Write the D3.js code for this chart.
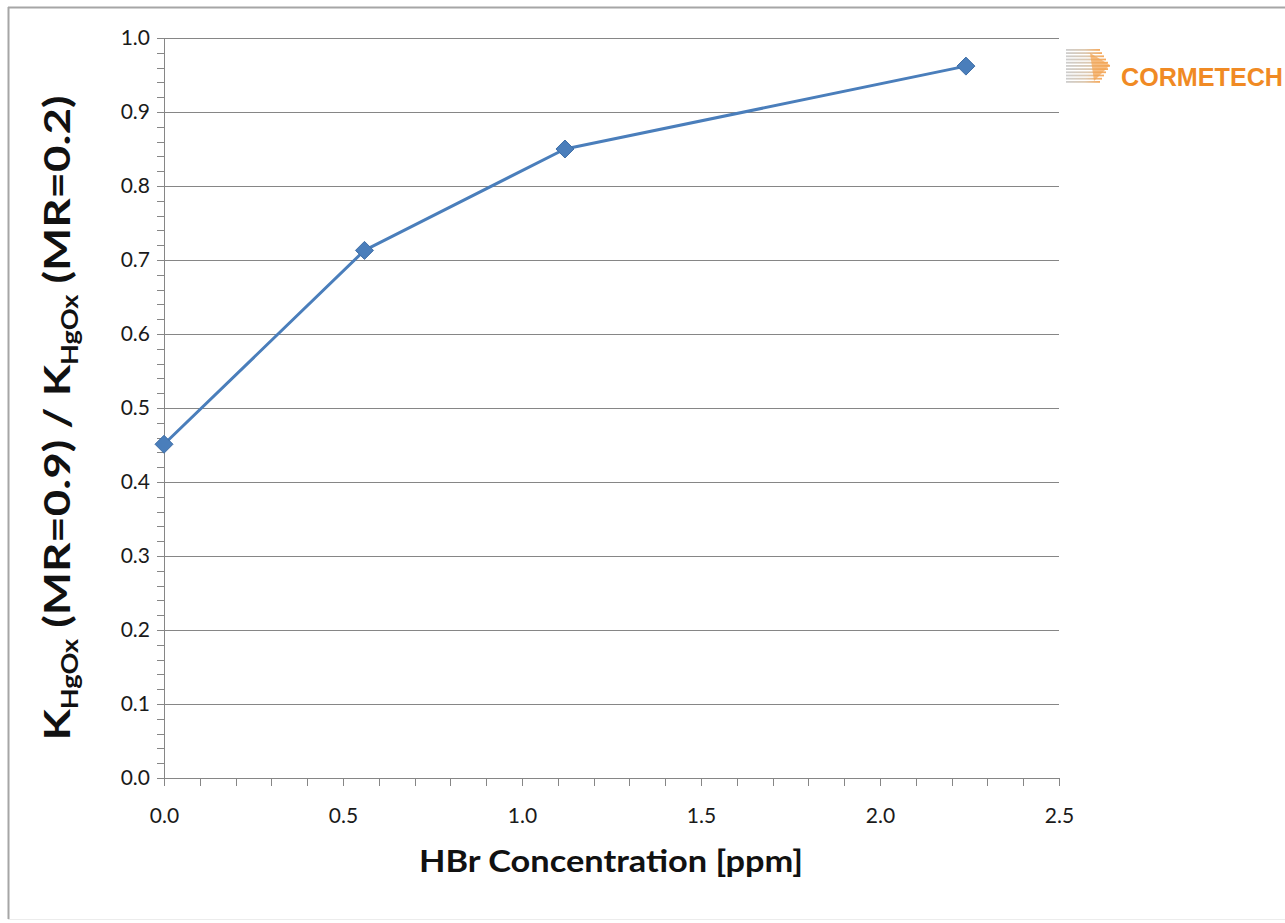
<!DOCTYPE html>
<html><head><meta charset="utf-8">
<script src="https://cdn.jsdelivr.net/npm/d3@7"></script>
<style>
html,body{margin:0;padding:0;background:#fff;}
svg{display:block;}
</style></head>
<body>
<script>
const xValues = [0, 0.56, 1.12, 2.24];
const yValues = [0.451, 0.713, 0.850, 0.962];
const xTicks = [0, 0.5, 1.0, 1.5, 2.0, 2.5];
const yTicks = [0, 0.1, 0.2, 0.3, 0.4, 0.5, 0.6, 0.7, 0.8, 0.9, 1.0];
const xTitle = "HBr Concentration [ppm]";
const logoText = "CORMETECH";

const W = 1285, H = 923;
const svg = d3.select("body").append("svg").attr("width", W).attr("height", H);

// outer border
svg.append("line").attr("x1",8).attr("x2",W).attr("y1",7.5).attr("y2",7.5).attr("stroke","#a6a6a6").attr("stroke-width",2);
svg.append("line").attr("x1",8.5).attr("x2",8.5).attr("y1",7).attr("y2",919).attr("stroke","#a6a6a6").attr("stroke-width",2);
svg.append("line").attr("x1",8).attr("x2",W).attr("y1",919.5).attr("y2",919.5).attr("stroke","#ececec").attr("stroke-width",1);

const x = d3.scaleLinear().domain([0, 2.5]).range([164, 1059]);
const y = d3.scaleLinear().domain([0, 1.0]).range([778, 38]);

const fontTick = "Lato, 'Open Sans', sans-serif";

// gridlines
svg.append("g").selectAll("line").data(yTicks.filter(d => d > 0)).join("line")
  .attr("x1", x(0)).attr("x2", x(2.5))
  .attr("y1", d => Math.round(y(d)) + 0.5).attr("y2", d => Math.round(y(d)) + 0.5)
  .attr("stroke", "#868686").attr("stroke-width", 1);

// y axis with minor ticks
const yMinor = d3.range(0, 51).map(i => i * 0.02);
svg.append("g").selectAll("line").data(yMinor).join("line")
  .attr("x1", x(0) - 7).attr("x2", x(0))
  .attr("y1", d => Math.round(y(d)) + 0.5).attr("y2", d => Math.round(y(d)) + 0.5)
  .attr("stroke", "#868686");
svg.append("line").attr("x1", x(0) + 0.5).attr("x2", x(0) + 0.5).attr("y1", y(1)).attr("y2", y(0))
  .attr("stroke", "#868686");

const yAxis = d3.axisLeft(y).tickValues(yTicks).tickFormat(d3.format(".1f")).tickSize(0).tickPadding(0);
const gy = svg.append("g").attr("transform", `translate(${x(0) - 14},0)`).call(yAxis);
gy.select(".domain").remove();
gy.selectAll("text").attr("font-family", fontTick).attr("font-size", 21).attr("fill", "#1a1a1a");

// x axis with minor ticks
const xMinor = d3.range(0, 26).map(i => i * 0.1);
svg.append("g").selectAll("line").data(xMinor).join("line")
  .attr("x1", d => Math.round(x(d)) + 0.5).attr("x2", d => Math.round(x(d)) + 0.5)
  .attr("y1", y(0)).attr("y2", y(0) + 8)
  .attr("stroke", "#868686");
svg.append("line").attr("x1", x(0)).attr("x2", x(2.5)).attr("y1", Math.round(y(0)) + 0.5).attr("y2", Math.round(y(0)) + 0.5)
  .attr("stroke", "#868686");
const xAxis = d3.axisBottom(x).tickValues(xTicks).tickFormat(d3.format(".1f")).tickSize(0).tickPadding(0);
const gx = svg.append("g").attr("transform", `translate(0,${y(0) + 30})`).call(xAxis);
gx.select(".domain").remove();
gx.selectAll("text").attr("font-family", fontTick).attr("font-size", 21).attr("fill", "#1a1a1a");

// x title
svg.append("text").attr("x", 611).attr("y", 872).attr("text-anchor", "middle")
  .attr("font-family", fontTick).attr("font-weight", "bold").attr("font-size", 31).attr("fill", "#111")
  .attr("textLength", 384).attr("lengthAdjust", "spacingAndGlyphs")
  .text(xTitle);

// y title
const yt = svg.append("text").attr("transform", "translate(70,418) rotate(-90)").attr("text-anchor", "middle")
  .attr("font-family", fontTick).attr("font-weight", "bold").attr("font-size", 37).attr("fill", "#111")
  .attr("textLength", 645).attr("lengthAdjust", "spacingAndGlyphs");
yt.append("tspan").text("K");
yt.append("tspan").attr("font-size", 22).attr("dy", 8).text("HgOx");
yt.append("tspan").attr("dy", -8).text(" (MR=0.9) / K");
yt.append("tspan").attr("font-size", 22).attr("dy", 8).text("HgOx");
yt.append("tspan").attr("dy", -8).text(" (MR=0.2)");

// series
const data = xValues.map((v, i) => [v, yValues[i]]);
svg.append("path").datum(data)
  .attr("d", d3.line().x(d => x(d[0])).y(d => y(d[1])))
  .attr("fill", "none").attr("stroke", "#4a7ebb").attr("stroke-width", 3).attr("stroke-linejoin", "round");
svg.append("g").selectAll("path").data(data).join("path")
  .attr("transform", d => `translate(${x(d[0])},${y(d[1])})`)
  .attr("d", "M0,-9L9,0L0,9L-9,0Z")
  .attr("fill", "#4a7ebb").attr("stroke", "#3f6ea6").attr("stroke-width", 1);

// logo
const logo = svg.append("g").attr("transform", "translate(1066,45)");
const defs = svg.append("defs");
const grad = defs.append("linearGradient").attr("id", "lg").attr("x1", "0").attr("x2", "1").attr("y1", "0").attr("y2", "0");
grad.append("stop").attr("offset", "0").attr("stop-color", "#c8c8c8");
grad.append("stop").attr("offset", "0.55").attr("stop-color", "#d9c3a8");
grad.append("stop").attr("offset", "1").attr("stop-color", "#f5a04a");
for (let i = 0; i < 11; i++) {
  logo.append("rect").attr("x", 0).attr("y", 4 + i * 3.2).attr("width", 44 - Math.abs(i - 5) * 2).attr("height", 1.8)
    .attr("fill", "url(#lg)").attr("opacity", 0.9);
}
logo.append("path").attr("d", "M24,8 L44,20 L28,36 Z").attr("fill", "#f3a24e").attr("opacity", 0.7);
svg.append("text").attr("x", 1121).attr("y", 86)
  .attr("font-family", "'Liberation Sans Narrow', 'Arial Narrow', 'Liberation Sans', sans-serif")
  .attr("font-stretch", "condensed").attr("font-weight", "bold").attr("font-size", 25)
  .attr("fill", "#f08a24").attr("textLength", 162).attr("lengthAdjust", "spacingAndGlyphs")
  .text(logoText);
</script>
</body></html>
